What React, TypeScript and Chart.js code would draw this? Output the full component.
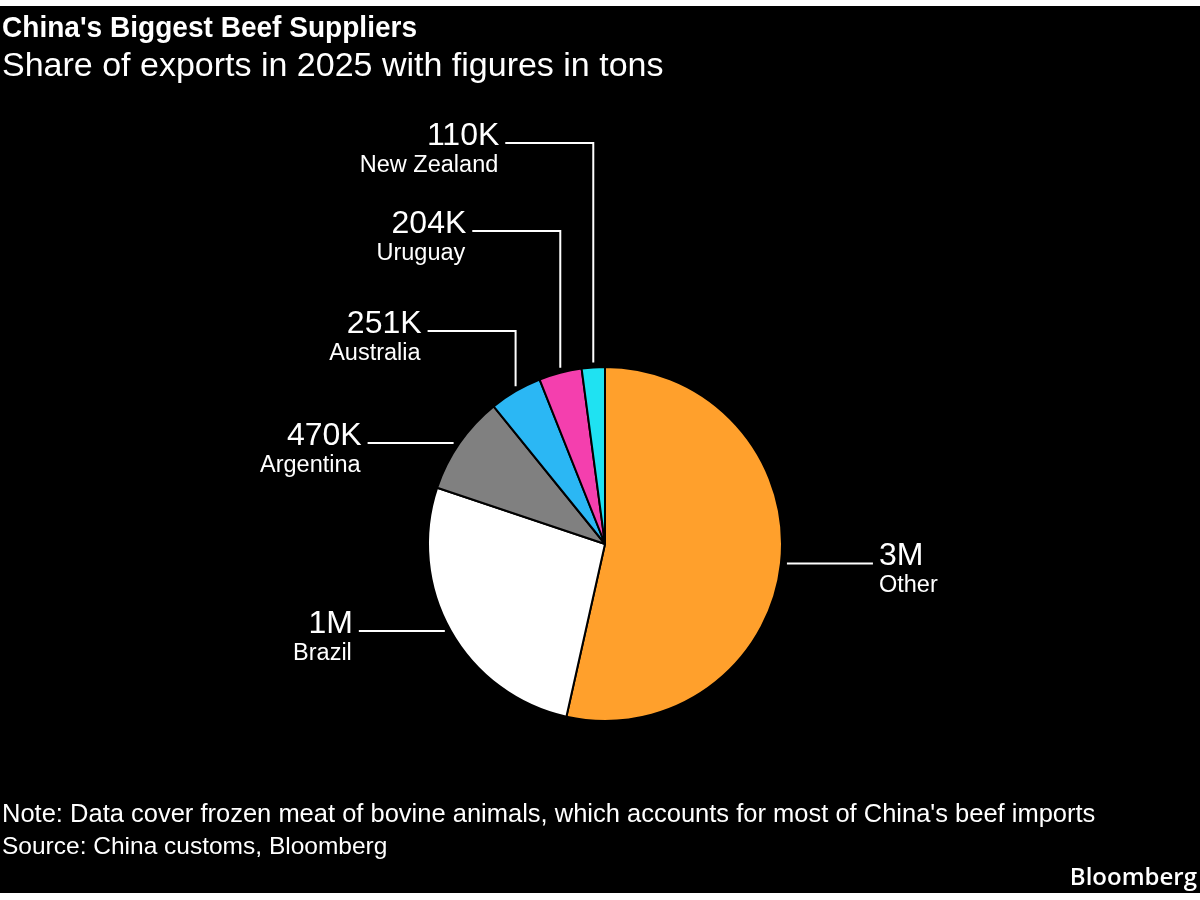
import React, { useEffect, useRef } from "react";
import { Chart, registerables } from "chart.js";

Chart.register(...registerables);

const categories = ["Other", "Brazil", "Argentina", "Australia", "Uruguay", "New Zealand"];
const values = [2790000, 1390000, 470000, 251000, 204000, 110000];
const valueLabels = ["3M", "1M", "470K", "251K", "204K", "110K"];
const colors = ["#ffa02c", "#ffffff", "#808080", "#2bb7f4", "#f43fae", "#1fe2f2"];

const FONT = "'Liberation Sans', Arial, sans-serif";

const elbowY: Record<number, number> = { 3: 331, 4: 231, 5: 143 };

const leaderLabels = {
  id: "leaderLabels",
  afterDatasetsDraw(chart: any) {
    const ctx = chart.ctx as CanvasRenderingContext2D;
    const meta = chart.getDatasetMeta(0);
    meta.data.forEach((arc: any, i: number) => {
      const { x, y, startAngle, endAngle, outerRadius } = arc.getProps(
        ["x", "y", "startAngle", "endAngle", "outerRadius"],
        true
      );
      const mid = (startAngle + endAngle) / 2;
      const px = x + Math.cos(mid) * outerRadius;
      const py = y + Math.sin(mid) * outerRadius;
      ctx.save();
      ctx.strokeStyle = "#ffffff";
      ctx.lineWidth = 2;
      let textX: number;
      let lineY: number;
      let align: CanvasTextAlign;
      if (elbowY[i] !== undefined) {
        lineY = elbowY[i];
        ctx.beginPath();
        ctx.moveTo(px, py - 5);
        ctx.lineTo(px, lineY);
        ctx.lineTo(px - 88, lineY);
        ctx.stroke();
        textX = px - 94;
        align = "right";
      } else {
        const dir = Math.cos(mid) >= 0 ? 1 : -1;
        lineY = py;
        const x0 = px + dir * 6;
        const x1 = x0 + dir * 86;
        ctx.beginPath();
        ctx.moveTo(x0, lineY);
        ctx.lineTo(x1, lineY);
        ctx.stroke();
        textX = x1 + dir * 6;
        align = dir > 0 ? "left" : "right";
      }
      ctx.fillStyle = "#ffffff";
      ctx.textAlign = align;
      ctx.textBaseline = "alphabetic";
      ctx.font = `32px ${FONT}`;
      ctx.fillText(valueLabels[i], textX, lineY + 2);
      ctx.font = `23.5px ${FONT}`;
      ctx.fillText(categories[i], textX + (align === "right" ? -1 : 0), lineY + 29);
      ctx.restore();
    });
  },
};

export default function App() {
  const canvasRef = useRef<HTMLCanvasElement | null>(null);

  useEffect(() => {
    document.body.style.margin = "0";
    const canvas = canvasRef.current;
    if (!canvas) return;
    const chart = new Chart(canvas, {
      type: "pie",
      data: {
        labels: categories,
        datasets: [
          {
            data: values,
            backgroundColor: colors,
            borderColor: "#000000",
            borderWidth: 2,
          },
        ],
      },
      options: {
        responsive: false,
        animation: false,
        layout: { padding: { left: 427, right: 417, top: 366, bottom: 178 } },
        plugins: {
          legend: { display: false },
          tooltip: { enabled: false },
        },
      },
      plugins: [leaderLabels],
    });
    return () => chart.destroy();
  }, []);

  const textBase: React.CSSProperties = {
    position: "absolute",
    left: 2,
    color: "#ffffff",
    fontFamily: FONT,
    whiteSpace: "nowrap",
  };

  return (
    <div style={{ position: "relative", width: 1200, height: 900, background: "#ffffff", overflow: "hidden" }}>
      <div style={{ position: "absolute", left: 0, top: 6, width: 1200, height: 887, background: "#000000" }} />
      <canvas ref={canvasRef} width={1200} height={900} style={{ position: "absolute", left: 0, top: 0, width: 1200, height: 900 }} />
      <div
        style={{
          ...textBase,
          top: 12,
          fontSize: 30,
          lineHeight: "30px",
          fontWeight: 700,
          transform: "scaleX(0.935)",
          transformOrigin: "left top",
        }}
      >
        China's Biggest Beef Suppliers
      </div>
      <div style={{ ...textBase, top: 47, fontSize: 34, lineHeight: "34px" }}>
        Share of exports in 2025 with figures in tons
      </div>
      <div style={{ ...textBase, top: 801, fontSize: 25.5, lineHeight: "25.5px" }}>
        Note: Data cover frozen meat of bovine animals, which accounts for most of China's beef imports
      </div>
      <div style={{ ...textBase, top: 833, fontSize: 24.5, lineHeight: "25.5px" }}>
        Source: China customs, Bloomberg
      </div>
      <div
        style={{
          position: "absolute",
          right: 3,
          top: 864,
          fontSize: 24,
          lineHeight: "24px",
          fontWeight: 600,
          color: "#ffffff",
          fontFamily: "'Open Sans', 'Noto Sans', sans-serif",
        }}
      >
        Bloomberg
      </div>
    </div>
  );
}
